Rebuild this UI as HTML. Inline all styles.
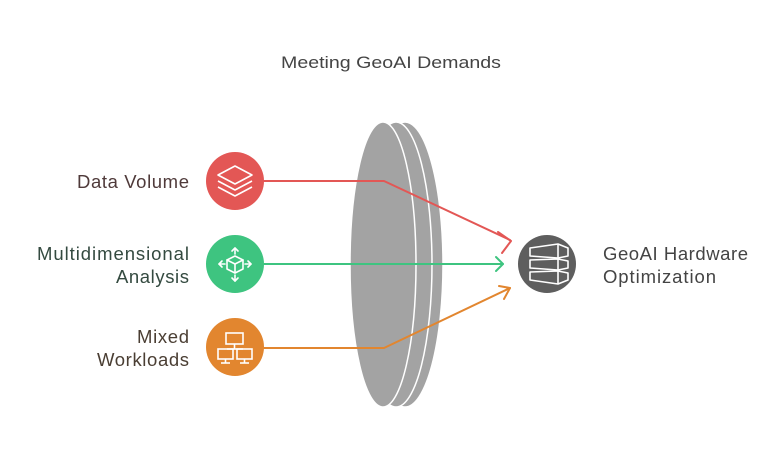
<!DOCTYPE html>
<html><head><style>
body{margin:0;background:#fff;}
svg text{font-family:"Liberation Sans",sans-serif;}
</style></head><body>
<svg width="782" height="458" viewBox="0 0 782 458" xmlns="http://www.w3.org/2000/svg">
<rect width="782" height="458" fill="#fff"/>
<text x="281" y="68" font-size="17" fill="#444" textLength="220" lengthAdjust="spacingAndGlyphs">Meeting GeoAI Demands</text>
<!-- lens -->
<ellipse cx="405" cy="264.5" rx="38" ry="142.5" fill="#a3a3a3" stroke="#fff" stroke-width="1.5"/>
<ellipse cx="396" cy="264.5" rx="36" ry="142.5" fill="#a3a3a3" stroke="#fff" stroke-width="1.5"/>
<ellipse cx="383" cy="264.5" rx="33" ry="142.5" fill="#a3a3a3" stroke="#fff" stroke-width="1.5"/>
<!-- connectors -->
<g fill="none" stroke-width="2" stroke-linecap="round" stroke-linejoin="round">
<polyline points="264,181 384,181 510,240" stroke="#e35755"/>
<polyline points="498,232 511,241 502,253" stroke="#e35755"/>
<line x1="264" y1="264" x2="503" y2="264" stroke="#3ec480"/>
<polyline points="496,257 503,264 496,271" stroke="#3ec480"/>
<polyline points="264,348 384,348 510,288" stroke="#e2862f"/>
<polyline points="499,286 510,288 504,299" stroke="#e2862f"/>
</g>
<!-- left circles -->
<circle cx="235" cy="181" r="29" fill="#e35755"/>
<g fill="none" stroke="#fff" stroke-width="1.6" stroke-linejoin="round">
<polygon points="235,166 252,175 235,184 218,175"/>
<polyline points="218,181 235,190 252,181"/>
<polyline points="218,187 235,196 252,187"/>
</g>
<circle cx="235" cy="264" r="29" fill="#3ec480"/>
<g fill="none" stroke="#fff" stroke-width="1.6" stroke-linejoin="round" stroke-linecap="round">
<polygon points="235,256 243,260 243,269 235,273 227,269 227,260"/>
<polyline points="227,260 235,264 243,260"/><line x1="235" y1="264" x2="235" y2="273"/>
<line x1="235" y1="254" x2="235" y2="248"/><polyline points="232,251 235,248 238,251"/>
<line x1="235" y1="275" x2="235" y2="281"/><polyline points="232,278 235,281 238,278"/>
<line x1="225" y1="264" x2="219" y2="264"/><polyline points="222,261 219,264 222,267"/>
<line x1="245" y1="264" x2="251" y2="264"/><polyline points="248,261 251,264 248,267"/>
</g>
<circle cx="235" cy="347" r="29" fill="#e2862f"/>
<g fill="none" stroke="#fff" stroke-width="1.6">
<rect x="226" y="333" width="17" height="11"/><line x1="234.5" y1="344" x2="234.5" y2="349"/>
<line x1="227" y1="349" x2="243" y2="349"/>
<rect x="218" y="349" width="15" height="10"/><rect x="237" y="349" width="15" height="10"/>
<line x1="225.5" y1="359" x2="225.5" y2="363"/><line x1="221" y1="363" x2="230" y2="363"/>
<line x1="244.5" y1="359" x2="244.5" y2="363"/><line x1="240" y1="363" x2="249" y2="363"/>
</g>
<!-- right circle -->
<circle cx="547" cy="264" r="29" fill="#5e5e5e"/>
<g fill="none" stroke="#fff" stroke-width="1.6" stroke-linejoin="round">
<polygon points="530,248 558,244 568,248 568,256 558,258 530,256"/><line x1="558" y1="244" x2="558" y2="258"/>
<polygon points="530,260 558,259 568,261 568,268 558,270 530,268"/><line x1="558" y1="259" x2="558" y2="270"/>
<polygon points="530,272 558,271 568,273 568,280 558,284 530,280"/><line x1="558" y1="271" x2="558" y2="284"/>
</g>
<!-- labels -->
<g font-size="18.5" lengthAdjust="spacingAndGlyphs">
<text x="77" y="188" fill="#4f3a3a" textLength="112">Data Volume</text>
<text x="37" y="260" fill="#344a40" textLength="152">Multidimensional</text>
<text x="116" y="283" fill="#344a40" textLength="73">Analysis</text>
<text x="137" y="343" fill="#4a3e33" textLength="52">Mixed</text>
<text x="97" y="366" fill="#4a3e33" textLength="92">Workloads</text>
<text x="603" y="260" fill="#444" textLength="145">GeoAI Hardware</text>
<text x="603" y="283" fill="#444" textLength="113">Optimization</text>
</g>
</svg>
</body></html>
